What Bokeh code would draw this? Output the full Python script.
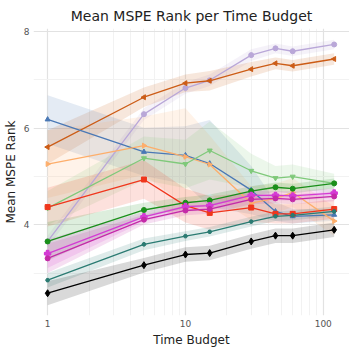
from bokeh.plotting import figure
from bokeh.models import FixedTicker, Range1d
from bokeh.embed import file_html
from bokeh.resources import INLINE
import math

budgets = [1, 5, 10, 15, 30, 45, 60, 120]
x_tick_labels = {1: "1", 10: "10", 100: "100"}

lavender = [3.66, 6.29, 6.83, 6.99, 7.51, 7.65, 7.59, 7.73]
lavender_err = [0.12, 0.12, 0.12, 0.12, 0.12, 0.1, 0.1, 0.1]
dark_orange = [5.61, 6.64, 6.93, 6.98, 7.22, 7.34, 7.29, 7.43]
dark_orange_err = [0.35, 0.2, 0.18, 0.2, 0.15, 0.12, 0.12, 0.12]
blue = [6.18, 5.51, 5.44, 5.27, 4.72, 4.28, 4.18, 4.21]
blue_err = [0.5, 0.5, 0.6, 0.9, 0.5, 0.2, 0.15, 0.12]
peach = [5.26, 5.64, 5.41, 5.25, 4.45, 4.55, 4.67, 4.08]
peach_err = [0.7, 0.6, 1.0, 0.6, 0.35, 0.3, 0.3, 0.3]
light_green = [4.35, 5.38, 5.26, 5.54, 5.12, 4.97, 5.00, 4.86]
light_green_err = [0.35, 0.45, 0.5, 0.6, 0.35, 0.25, 0.25, 0.2]
red = [4.37, 4.94, 4.40, 4.25, 4.36, 4.23, 4.23, 4.33]
red_err = [0.4, 0.4, 0.35, 0.35, 0.3, 0.2, 0.2, 0.2]
dark_green = [3.66, 4.31, 4.46, 4.51, 4.70, 4.78, 4.75, 4.86]
dark_green_err = [0.4, 0.15, 0.12, 0.12, 0.1, 0.1, 0.1, 0.1]
magenta_a = [3.41, 4.17, 4.38, 4.40, 4.61, 4.61, 4.60, 4.66]
magenta_a_err = [0.3, 0.1, 0.1, 0.1, 0.1, 0.1, 0.1, 0.1]
magenta_b = [3.31, 4.11, 4.30, 4.33, 4.53, 4.55, 4.53, 4.59]
magenta_b_err = [0.3, 0.1, 0.1, 0.1, 0.1, 0.1, 0.1, 0.1]
teal = [2.86, 3.60, 3.77, 3.86, 4.07, 4.18, 4.20, 4.28]
teal_err = [0.15, 0.12, 0.1, 0.1, 0.1, 0.1, 0.1, 0.1]
black = [2.59, 3.17, 3.39, 3.42, 3.66, 3.78, 3.78, 3.90]
black_err = [0.25, 0.15, 0.15, 0.15, 0.15, 0.15, 0.15, 0.15]

series = [
    (lavender, lavender_err, "#b9a7d8", "circle", 0.0, 5),
    (dark_orange, dark_orange_err, "#cc5c16", "triangle", math.pi / 2, 5),
    (blue, blue_err, "#4a78b5", "triangle", 0.0, 5),
    (peach, peach_err, "#fdae6b", "triangle", -math.pi / 2, 5),
    (light_green, light_green_err, "#7fc97a", "inverted_triangle", 0.0, 5),
    (red, red_err, "#f0361c", "square", 0.0, 5),
    (dark_green, dark_green_err, "#1a8f1a", "circle", 0.0, 5),
    (magenta_a, magenta_a_err, "#d43bd4", "plus", 0.0, 6),
    (magenta_b, magenta_b_err, "#c42aa8", "circle", 0.0, 5),
    (teal, teal_err, "#2b7b72", "hex", 0.0, 4),
    (black, black_err, "#000000", "diamond", 0.0, 7),
]

FONT = "DejaVu Sans"

p = figure(width=349, height=349, x_axis_type="log", output_backend="svg",
           toolbar_location=None, title="Mean MSPE Rank per Time Budget",
           x_range=Range1d(0.79, 155), y_range=Range1d(2.13, 8.06),
           min_border_left=0, min_border_right=0, min_border_top=0, min_border_bottom=0)

p.title.align = "center"
p.title.text_font = FONT
p.title.text_font_size = "14px"
p.title.text_font_style = "normal"
p.title.text_color = "#222222"

p.outline_line_color = None
p.background_fill_color = "white"

for vals, err, col, mk, ang, sz in series:
    lo = [v - e for v, e in zip(vals, err)]
    hi = [v + e for v, e in zip(vals, err)]
    p.varea(x=budgets, y1=lo, y2=hi, fill_color=col, fill_alpha=0.15)

for vals, err, col, mk, ang, sz in series:
    p.line(budgets, vals, line_color=col, line_width=1.3)
    p.scatter(budgets, vals, marker=mk, angle=ang, size=sz, fill_color=col,
              line_color=col, line_width=1.5 if mk == "plus" else 1)

p.xaxis.ticker = FixedTicker(ticks=[1, 10, 100],
                             minor_ticks=[2, 3, 4, 5, 6, 7, 8, 9, 20, 30, 40, 50, 60, 70, 80, 90, 200])
p.xaxis.major_label_overrides = x_tick_labels
p.yaxis.ticker = FixedTicker(ticks=[4, 6, 8], minor_ticks=[3, 5, 7])

for ax in (p.xaxis[0], p.yaxis[0]):
    ax.axis_line_color = None
    ax.major_tick_line_color = None
    ax.minor_tick_line_color = None
    ax.major_tick_out = 0
    ax.minor_tick_out = 0
    ax.major_label_text_font = FONT
    ax.major_label_text_font_size = "9px"
    ax.major_label_text_color = "#555555"
    ax.axis_label_text_font = FONT
    ax.axis_label_text_font_size = "12px"
    ax.axis_label_text_font_style = "normal"
    ax.axis_label_text_color = "#222222"
    ax.major_label_standoff = 4
    ax.axis_label_standoff = 3

p.xaxis.axis_label = "Time Budget"
p.yaxis.axis_label = "Mean MSPE Rank"

p.xgrid.grid_line_color = "#e2e2e2"
p.ygrid.grid_line_color = "#e2e2e2"
p.xgrid.grid_line_width = 1.2
p.ygrid.grid_line_width = 1.2
p.xgrid.minor_grid_line_color = "#f2f2f2"
p.ygrid.minor_grid_line_color = "#f2f2f2"

open("out.html", "w").write(file_html(p, INLINE))
